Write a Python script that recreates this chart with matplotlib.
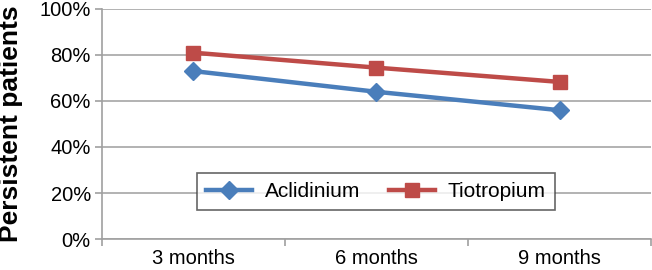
import matplotlib
matplotlib.use('Agg')
import matplotlib.pyplot as plt
import numpy as np

categories = ['3 months', '6 months', '9 months']
aclidinium = [73.0, 64.0, 56.0]
tiotropium = [81.0, 74.5, 68.3]
yticks = [0, 20, 40, 60, 80, 100]

plt.rcParams['font.family'] = ['Liberation Sans', 'DejaVu Sans']

fig = plt.figure(figsize=(6.52, 2.70), dpi=100)
ax = fig.add_axes([0.1564, 0.1148, 0.8421, 0.8519])

x = np.arange(len(categories))
ax.plot(x, aclidinium, color='#4a7ebb', lw=3.2, marker='D', ms=9,
        label='Aclidinium', zorder=3)
ax.plot(x, tiotropium, color='#be4b48', lw=3.2, marker='s', ms=10,
        label='Tiotropium', zorder=3)

ax.set_xlim(-0.5, len(categories) - 0.5)
ax.set_ylim(0, 100)
ax.set_yticks(yticks)
ax.set_yticklabels([f'{v}%' for v in yticks], fontsize=14.5)
ax.set_xticks(x)
ax.set_xticklabels(categories, fontsize=14.5)
ax.set_xticks(np.arange(len(categories) + 1) - 0.5, minor=True)
ax.tick_params(axis='x', which='major', length=0, pad=7)
ax.tick_params(axis='x', which='minor', length=5, color='#a0a0a0', width=1.2)
ax.tick_params(axis='y', length=5, color='#a0a0a0', width=1.2, pad=3)

ax.grid(axis='y', color='#a6a6a6', lw=1.2)
ax.set_axisbelow(True)
for s in ['top', 'right']:
    ax.spines[s].set_visible(False)
for s in ['left', 'bottom']:
    ax.spines[s].set_color('#a0a0a0')
    ax.spines[s].set_linewidth(1.2)

ax.set_ylabel('Persistent patients', fontsize=19, fontweight='bold')
ax.yaxis.set_label_coords(-0.143, 0.5)

leg = ax.legend(loc='center', bbox_to_anchor=(0.499, 0.207), ncol=2,
                fontsize=15, frameon=True, fancybox=False,
                edgecolor='#404040', handlelength=2.2, handletextpad=0.6,
                columnspacing=1.4, borderpad=0.45, borderaxespad=0)
leg.get_frame().set_linewidth(1.2)

fig.savefig('out.png', dpi=100)
